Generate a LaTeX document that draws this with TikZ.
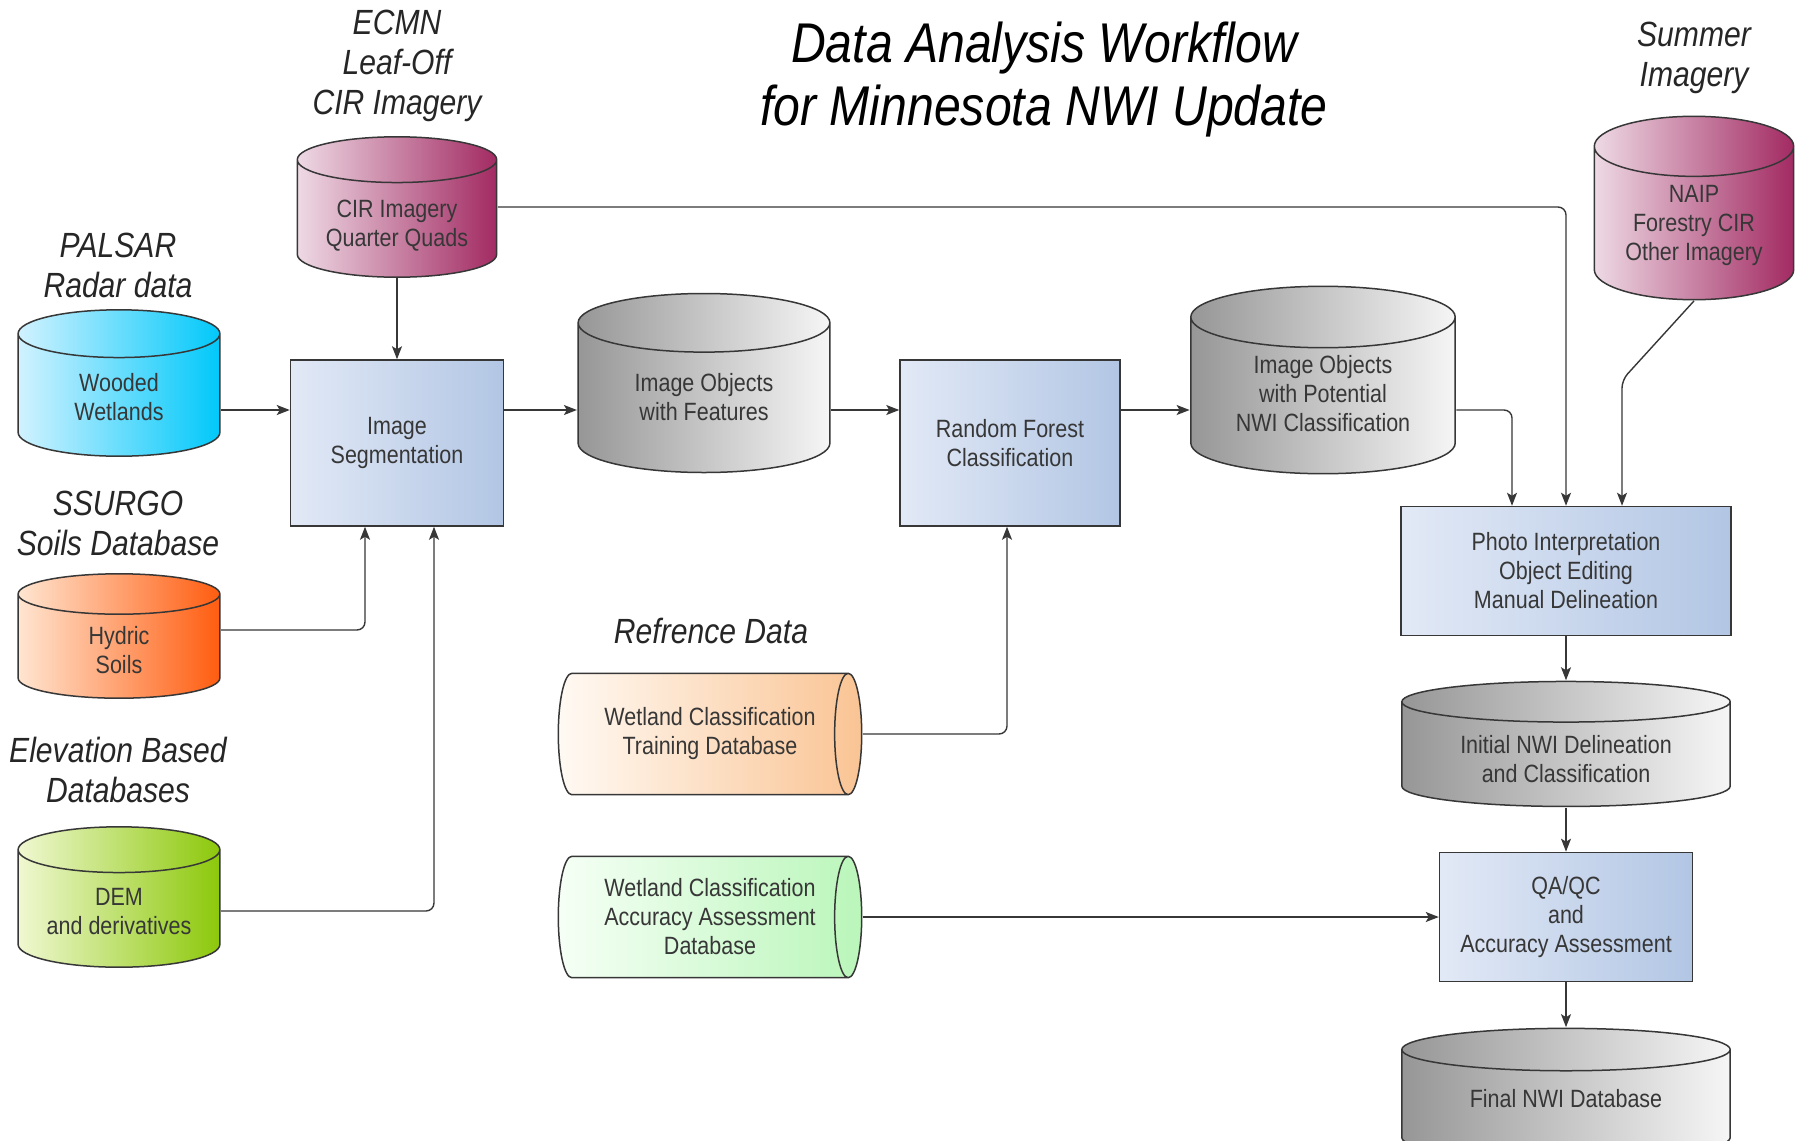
\documentclass[tikz,border=0pt]{standalone}
\usepackage{fontspec}
\setmainfont{Liberation Sans}[FakeStretch=0.86]
\usetikzlibrary{shapes.geometric, arrows.meta, positioning, calc}

% fills, light side first
\definecolor{boxL}{RGB}{226,233,246}
\definecolor{boxR}{RGB}{178,198,228}
\definecolor{grayL}{RGB}{150,150,150}
\definecolor{grayR}{RGB}{246,246,246}
\definecolor{pinkL}{RGB}{238,218,229}
\definecolor{pinkR}{RGB}{162,42,98}
\definecolor{cyanL}{RGB}{210,242,255}
\definecolor{cyanR}{RGB}{0,200,250}
\definecolor{orangeL}{RGB}{255,230,210}
\definecolor{orangeR}{RGB}{255,92,15}
\definecolor{greenL}{RGB}{240,248,210}
\definecolor{greenR}{RGB}{140,200,10}
\definecolor{peachL}{RGB}{255,250,244}
\definecolor{peachR}{RGB}{250,196,148}
\definecolor{mintL}{RGB}{246,255,246}
\definecolor{mintR}{RGB}{186,246,186}
\definecolor{ink}{RGB}{55,55,55}

\tikzstyle{process} = [rectangle, draw=ink, line width=0.75pt, left color=boxL, right color=boxR, text=ink, align=center, font=\fontsize{12.5}{14.5}\selectfont]
\tikzstyle{sourcelabel} = [font=\itshape\fontsize{17.5}{20}\selectfont, align=center, text=black!85]
\tikzstyle{arrow} = [draw=ink, line width=0.7pt, ->, >={Stealth[length=6.5pt, width=5pt, inset=1.5pt]}, rounded corners=4pt]

% upright database drum and lying reference drum, drawn inside the node box
\tikzset{
  lightside/.code={\def\drumL{#1}},
  darkside/.code={\def\drumR{#1}},
  drum/.style={rectangle, inner sep=0pt, text=ink, align=center, font=\fontsize{12.5}{14.5}\selectfont,
    path picture={
      \shadedraw [left color=\drumL, right color=\drumR, draw=ink, line width=0.75pt]
        let \p1=(path picture bounding box.south west), \p2=(path picture bounding box.north east),
            \n1={(\x2-\x1)/2-0.4pt}, \n2={(\y2-\y1)/6-0.4pt} in
        (\x1+0.4pt,\y2-\n2-0.4pt) -- (\x1+0.4pt,\y1+\n2+0.4pt)
        arc [start angle=180, end angle=360, x radius=\n1, y radius=\n2]
        -- (\x2-0.4pt,\y2-\n2-0.4pt)
        arc [start angle=0, end angle=180, x radius=\n1, y radius=\n2] -- cycle
        (\x1+0.4pt,\y2-\n2-0.4pt)
        arc [start angle=180, end angle=360, x radius=\n1, y radius=\n2];
    }},
  tube/.style={rectangle, inner sep=0pt, minimum width=152.5pt, minimum height=61.5pt, text=ink, align=center, font=\fontsize{12.5}{14.5}\selectfont,
    path picture={
      \shadedraw [left color=\drumL, right color=\drumR, draw=ink, line width=0.75pt]
        let \p1=(path picture bounding box.south west), \p2=(path picture bounding box.north east),
            \n1={(\y2-\y1)/2-0.4pt}, \n2={(\y2-\y1)*0.11} in
        (\x1+\n2+0.4pt,\y2-0.4pt) -- (\x2-\n2-0.4pt,\y2-0.4pt)
        arc [start angle=90, end angle=-90, x radius=\n2, y radius=\n1]
        -- (\x1+\n2+0.4pt,\y1+0.4pt)
        arc [start angle=270, end angle=90, x radius=\n2, y radius=\n1] -- cycle
        (\x2-\n2-0.4pt,\y1+0.4pt)
        arc [start angle=270, end angle=90, x radius=\n2, y radius=\n1];
    }},
}

\begin{document}
\begin{tikzpicture}[x=0.5pt, y=-0.5pt, node distance=22pt]
\useasboundingbox[fill=white] (0,0) rectangle (1803,1140);

\node (title) [font=\itshape\fontsize{28}{31.5}\selectfont, align=center] at (1044,80) {Data Analysis Workflow\\for Minnesota NWI Update};

% input data on the left
\node (ecmn) [sourcelabel] at (397,66) {ECMN\\Leaf-Off\\CIR Imagery};
\node (cir) [drum, lightside=pinkL, darkside=pinkR, minimum width=100.5pt, minimum height=71pt] at (397,207) {\mbox{}\\[13pt]CIR Imagery\\Quarter Quads};

\node (palsar) [sourcelabel] at (118,265) {PALSAR\\Radar data};
\node (wood) [drum, lightside=cyanL, darkside=cyanR, minimum width=101.7pt, minimum height=74pt] at (119,383) {\mbox{}\\[8.5pt]Wooded\\Wetlands};

\node (ssurgo) [sourcelabel] at (118,523) {SSURGO\\Soils Database};
\node (soil) [drum, lightside=orangeL, darkside=orangeR, minimum width=101.7pt, minimum height=63pt] at (119,636) {\mbox{}\\[8.5pt]Hydric\\Soils};

\node (elev) [sourcelabel] at (118,770) {Elevation Based\\Databases};
\node (dem) [drum, lightside=greenL, darkside=greenR, minimum width=101.7pt, minimum height=71pt] at (119,897) {\mbox{}\\[8.5pt]DEM\\and derivatives};

% main chain
\coordinate (flow) at (0,410);
\node (seg) [process, minimum width=106.5pt, minimum height=83pt] at (397,443) {Image\\Segmentation};
\node (obj) [drum, lightside=grayL, darkside=grayR, minimum width=126.7pt, minimum height=90.3pt] at (704,383) {\mbox{}\\[8.5pt]Image Objects\\with Features};
\node (rf) [process, minimum width=110pt, minimum height=83pt] at (1010,443) {Random Forest\\Classification};
\node (objpot) [drum, lightside=grayL, darkside=grayR, minimum width=133pt, minimum height=94.5pt] at (1323,380) {\mbox{}\\[8.5pt]Image Objects\\with Potential\\NWI Classification};

% reference data
\node (refdata) [sourcelabel] at (711,631) {Refrence Data};
\node (train) [tube, lightside=peachL, darkside=peachR] at (710,734) {Wetland Classification\\Training Database};
\node (acc) [tube, lightside=mintL, darkside=mintR] at (710,917) {Wetland Classification\\Accuracy Assessment\\Database};

% summer imagery
\node (summer) [sourcelabel] at (1694,58) {Summer\\Imagery};
\node (naip) [drum, lightside=pinkL, darkside=pinkR, minimum width=100.5pt, minimum height=92.5pt] at (1694,208) {\mbox{}\\[12pt]NAIP\\Forestry CIR\\Other Imagery};
\coordinate (naipbend) at (1622,380);

% editing and checking
\node (photo) [process, minimum width=165pt, minimum height=64.5pt] at (1566,571) {Photo Interpretation\\Object Editing\\Manual Delineation};
\node (init) [drum, lightside=grayL, darkside=grayR, below=of photo, minimum width=165pt, minimum height=63.3pt] {\mbox{}\\[9.5pt]Initial NWI Delineation\\and Classification};
\node (qa) [process, below=of init, minimum width=126.5pt, minimum height=64.5pt] {QA/QC\\and\\Accuracy Assessment};
\node (final) [drum, lightside=grayL, darkside=grayR, below=22.5pt of qa, minimum width=165pt, minimum height=66pt] {\mbox{}\\[-0.5pt]Final NWI Database};

\draw [arrow] (cir.south) -- (seg.north);
\draw [arrow] (cir.east) -| (photo.north);
\draw [arrow] (wood.east |- flow) -- (seg.west |- flow);
\draw [arrow] ([yshift=3pt]soil.east) -| ([xshift=-16pt]seg.south);
\draw [arrow] ([yshift=-7pt]dem.east) -| ([xshift=18.5pt]seg.south);
\draw [arrow] (seg.east |- flow) -- (obj.west |- flow);
\draw [arrow] (obj.east |- flow) -- (rf.west |- flow);
\draw [arrow] (rf.east |- flow) -- (objpot.west |- flow);
\draw [arrow] (objpot.east |- flow) -| ([xshift=-27pt]photo.north);
\draw [arrow] (naip.south) -- (naipbend) -- (naipbend |- photo.north);
\draw [arrow] (train.east) -| ([xshift=-1.5pt]rf.south);
\draw [arrow] (acc.east) -- (acc.east -| qa.west);
\draw [arrow] (photo) -- (init);
\draw [arrow] (init) -- (qa);
\draw [arrow] (qa) -- (final);

\end{tikzpicture}
\end{document}
